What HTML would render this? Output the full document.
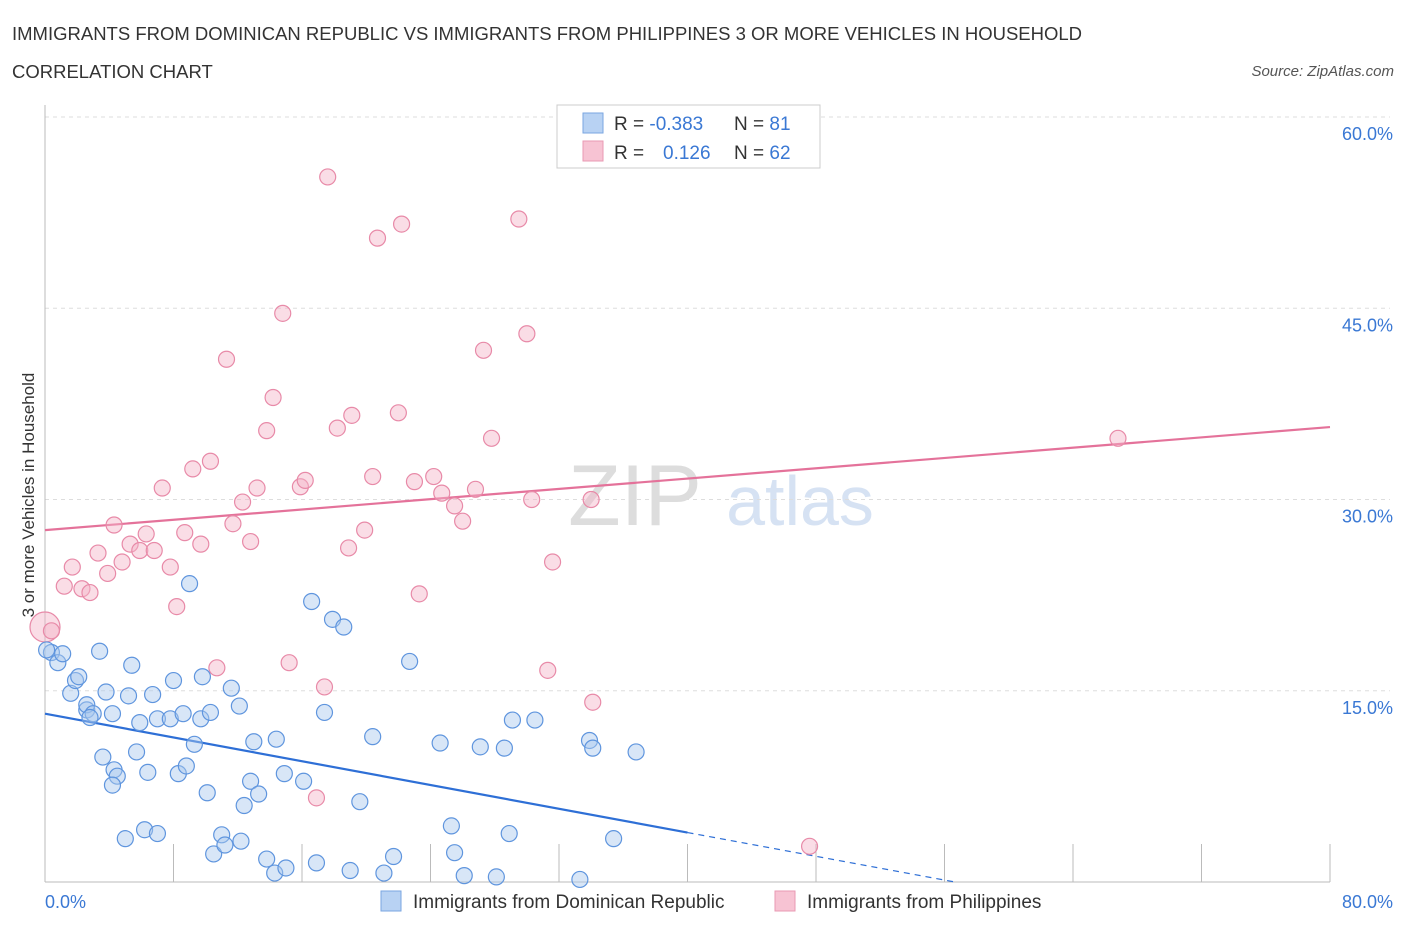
<!DOCTYPE html>
<html><head><meta charset="utf-8"><style>
body{margin:0;background:#fff;font-family:"Liberation Sans",sans-serif;}
svg text{font-family:"Liberation Sans",sans-serif;}
</style></head><body>
<svg id="chart" width="1406" height="930" viewBox="0 0 1406 930">
<text x="12" y="40" font-size="18.5" fill="#333">IMMIGRANTS FROM DOMINICAN REPUBLIC VS IMMIGRANTS FROM PHILIPPINES 3 OR MORE VEHICLES IN HOUSEHOLD</text>
<text x="12" y="78" font-size="18.5" fill="#333">CORRELATION CHART</text>
<text x="1394" y="76" font-size="15" fill="#555" font-style="italic" text-anchor="end">Source: ZipAtlas.com</text>
<g><text x="635" y="525" font-size="86" fill="#ddd" font-family="Liberation Serif" text-anchor="middle">ZIP</text><text x="800" y="525" font-size="70" fill="#d6e2f3" text-anchor="middle">atlas</text></g>
<g id="grid"></g>
<g id="axes"></g>
<g id="lines"></g>
<g id="pts"></g>
<text x="34" y="495" font-size="17" fill="#333" text-anchor="middle" transform="rotate(-90 34 495)">3 or more Vehicles in Household</text>
<g>
<rect x="557" y="105" width="263" height="63" fill="#fff" stroke="#ccc"/>
<rect x="583" y="113" width="20" height="20" fill="#b8d2f3" stroke="#7aa6e0"/>
<rect x="583" y="141" width="20" height="20" fill="#f7c3d3" stroke="#e99ab3"/>
<text x="614" y="130" font-size="19" fill="#333">R = <tspan fill="#3a78d4">-0.383</tspan><tspan x="734">N = </tspan><tspan fill="#3a78d4">81</tspan></text>
<text x="614" y="159" font-size="19" fill="#333">R = <tspan x="663" fill="#3a78d4">0.126</tspan><tspan x="734">N = </tspan><tspan fill="#3a78d4">62</tspan></text>
</g>
<g>
<rect x="381" y="891" width="20" height="20" fill="#b8d2f3" stroke="#7aa6e0"/>
<text x="413" y="908" font-size="19" fill="#333">Immigrants from Dominican Republic</text>
<rect x="775" y="891" width="20" height="20" fill="#f7c3d3" stroke="#e99ab3"/>
<text x="807" y="908" font-size="19" fill="#333">Immigrants from Philippines</text>
</g>
</svg>
<script>
const blueX=[0.4,0.8,1.1,1.6,1.9,2.1,2.6,2.6,3.0,2.8,3.4,3.6,4.3,4.5,4.2,3.8,5.2,5.4,5.7,6.4,6.7,5.9,7.0,7.8,8.0,8.6,8.3,8.8,9.3,9.0,9.8,9.7,10.1,10.3,10.5,11.0,11.2,11.6,12.1,12.4,12.2,12.8,13.0,13.3,13.8,14.3,14.4,15.0,14.9,16.1,16.6,16.9,17.4,17.9,18.6,19.0,19.6,20.4,21.1,21.7,22.7,24.6,25.3,25.5,26.1,27.1,28.1,28.6,28.9,29.1,30.5,33.3,33.9,34.1,35.4,36.8,5.0,6.2,7.0,4.2,0.1];
const blueY=[18.0,17.2,17.9,14.8,15.8,16.1,13.5,13.9,13.2,12.9,18.1,9.8,8.8,8.3,7.6,14.9,14.6,17.0,10.2,8.6,14.7,12.5,12.8,12.8,15.8,13.2,8.5,9.1,10.8,23.4,16.1,12.8,7.0,13.3,2.2,3.7,2.9,15.2,13.8,6.0,3.2,7.9,11.0,6.9,1.8,0.7,11.2,1.1,8.5,7.9,22.0,1.5,13.3,20.6,20.0,0.9,6.3,11.4,0.7,2.0,17.3,10.9,4.4,2.3,0.5,10.6,0.4,10.5,3.8,12.7,12.7,0.2,11.1,10.5,3.4,10.2,3.4,4.1,3.8,13.2,18.2];
const pinkX=[0.0,0.4,1.2,1.7,2.3,2.8,3.3,3.9,4.3,4.8,5.3,5.9,6.3,6.8,7.3,7.8,8.2,8.7,9.2,9.7,10.3,10.7,11.3,11.7,12.3,12.8,13.2,13.8,14.2,14.8,15.2,15.9,16.2,16.9,17.4,17.6,18.2,18.9,19.1,19.9,20.4,20.7,22.0,22.2,23.0,23.3,24.2,24.7,25.5,26.0,26.8,27.3,27.8,29.5,30.0,30.3,31.6,31.3,34.0,34.1,47.6,66.8];
const pinkY=[20.0,19.7,23.2,24.7,23.0,22.7,25.8,24.2,28.0,25.1,26.5,26.0,27.3,26.0,30.9,24.7,21.6,27.4,32.4,26.5,33.0,16.8,41.0,28.1,29.8,26.7,30.9,35.4,38.0,44.6,17.2,31.0,31.5,6.6,15.3,55.3,35.6,26.2,36.6,27.6,31.8,50.5,36.8,51.6,31.4,22.6,31.8,30.5,29.5,28.3,30.8,41.7,34.8,52.0,43.0,30.0,25.1,16.6,30.0,14.1,2.8,34.8];
const blueTrend=[13.2,-0.233];
const pinkTrend=[27.6,0.101];
const yTicks=[15,30,45,60];
const xTickLabels=["0.0%","80.0%"];
const NS="http://www.w3.org/2000/svg";
const X0=45,X1=1330,Y0=882,Y60=117;
const sx=v=>X0+v/80*(X1-X0);
const sy=v=>Y0-v/60*(Y0-Y60);
function mk(t,a,p){const e=document.createElementNS(NS,t);for(const k in a)e.setAttribute(k,a[k]);p.appendChild(e);return e;}
const grid=document.getElementById('grid'),axes=document.getElementById('axes'),lines=document.getElementById('lines'),pts=document.getElementById('pts');
yTicks.forEach(v=>{
 const l=mk('line',{x1:X0,x2:X1+60,y1:sy(v),y2:sy(v),stroke:'#ddd','stroke-dasharray':'4,4'},grid);
 
 
 const t=mk('text',{x:1393,y:sy(v)+23,'font-size':18,fill:'#3a78d4','text-anchor':'end'},axes);
 t.textContent=v.toFixed(1)+'%';
 
 
});
mk('line',{x1:X0,x2:X0,y1:105,y2:Y0,stroke:'#bbb'},axes);
mk('line',{x1:X0,x2:X1,y1:Y0,y2:Y0,stroke:'#bbb'},axes);
for(let i=0;i<=10;i++){const tk=mk('line',{x1:sx(i*8),x2:sx(i*8),y1:Y0,y2:Y0-38,stroke:'#bbb'},axes);
 
 }
const xl0=mk('text',{x:45,y:908,'font-size':18,fill:'#3a78d4'},axes);xl0.textContent=xTickLabels[0];


const xl1=mk('text',{x:1393,y:908,'font-size':18,fill:'#3a78d4','text-anchor':'end'},axes);xl1.textContent=xTickLabels[1];


function dots(xs,ys,fill,stroke,name,bigFirst){xs.forEach((x,i)=>{
 const c=mk('circle',{cx:sx(x),cy:sy(ys[i]),r:(bigFirst&&i===0)?15:8,fill:fill,'fill-opacity':0.45,stroke:stroke,'stroke-width':1.2},pts);
 
 
});}
dots(pinkX,pinkY,'#f4b3c7','#e88aa8','philippines-point',true);
dots(blueX,blueY,'#a9c7ee','#5f95de','dominican-point',false);
const bz=-blueTrend[0]/blueTrend[1];
const bl=mk('line',{x1:sx(0),y1:sy(blueTrend[0]),x2:sx(40),y2:sy(blueTrend[0]+blueTrend[1]*40),stroke:'#2e6fd6','stroke-width':2.2},lines);


const bd=mk('line',{x1:sx(40),y1:sy(blueTrend[0]+blueTrend[1]*40),x2:sx(bz),y2:sy(0),stroke:'#2e6fd6','stroke-width':1.2,'stroke-dasharray':'6,5'},lines);


const pl=mk('line',{x1:sx(0),y1:sy(pinkTrend[0]),x2:sx(80),y2:sy(pinkTrend[0]+pinkTrend[1]*80),stroke:'#e4729a','stroke-width':2.2},lines);


</script>
</body></html>
